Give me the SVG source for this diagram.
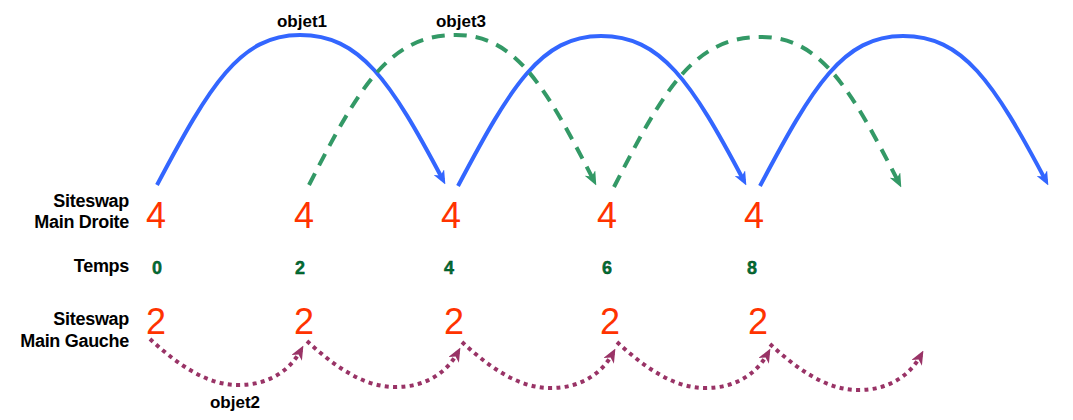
<svg xmlns="http://www.w3.org/2000/svg" width="1073" height="420" viewBox="0 0 1073 420">
<style>
.lbl{font-family:"Liberation Sans",Arial,sans-serif;font-weight:bold;font-size:18px;letter-spacing:-0.3px;fill:#000;text-anchor:end}
.obj{font-family:"Liberation Sans",Arial,sans-serif;font-weight:bold;font-size:17px;fill:#000;text-anchor:middle}
.big{font-family:"Liberation Sans",Arial,sans-serif;font-size:36px;fill:#ff3300;text-anchor:middle}
.t{font-family:"Liberation Sans",Arial,sans-serif;font-weight:bold;font-size:18px;fill:#007033;stroke:#003a1a;stroke-width:0.4;text-anchor:middle}
.blue{fill:none;stroke:#3366ff;stroke-width:4;marker-end:url(#ab)}
.green{fill:none;stroke:#339966;stroke-width:4;stroke-dasharray:13 9;marker-end:url(#ag)}
.purple{fill:none;stroke:#993366;stroke-width:4;stroke-dasharray:4 4.3;marker-end:url(#ap)}
</style>
<defs>
<marker id="ab" viewBox="0 0 14 12" refX="9" refY="6" markerWidth="14" markerHeight="12" markerUnits="userSpaceOnUse" orient="auto">
<path d="M0,0 L14,6 L0,12 L4,6 z" fill="#3366ff"/>
</marker>
<marker id="ag" viewBox="0 0 14 12" refX="9" refY="6" markerWidth="14" markerHeight="12" markerUnits="userSpaceOnUse" orient="auto">
<path d="M0,0 L14,6 L0,12 L4,6 z" fill="#339966"/>
</marker>
<marker id="ap" viewBox="0 0 14 12" refX="9" refY="6" markerWidth="14" markerHeight="12" markerUnits="userSpaceOnUse" orient="auto">
<path d="M0,0 L14,6 L0,12 L4,6 z" fill="#993366"/>
</marker>
</defs>
<g id="connectors">
<path id="b1" class="blue" d="M157,185 C210,85 240,35 300,35 C360,35 390,80 443,180"/>
<path id="b2" class="blue" transform="translate(301,1)" d="M157,185 C210,85 240,35 300,35 C360,35 390,80 443,180"/>
<path id="b3" class="blue" transform="translate(603,1)" d="M157,185 C210,85 240,35 300,35 C360,35 390,80 443,180"/>
<path id="g1" class="green" d="M309,185 C360,85 390,35 456,35 C515,35 545,85 594,181"/>
<path id="g2" class="green" transform="translate(305,2)" d="M309,185 C360,85 390,35 456,35 C515,35 545,85 594,181"/>
<path id="p1" class="purple" d="M150,339 C175,362 205,385 238,385 C270,385 290,370 301,350"/>
<path id="p2" class="purple" transform="translate(157,2)" d="M150,339 C175,362 205,385 238,385 C270,385 290,370 301,350"/>
<path id="p3" class="purple" transform="translate(312,3)" d="M150,339 C175,362 205,385 238,385 C270,385 290,370 301,350"/>
<path id="p4" class="purple" transform="translate(467,3)" d="M150,339 C175,362 205,385 238,385 C270,385 290,370 301,350"/>
<path id="p5" class="purple" transform="translate(620,5)" d="M150,339 C175,362 205,385 238,385 C270,385 290,370 301,350"/>
</g>
<g id="labels">
<text class="obj" x="302" y="27">objet1</text>
<text class="obj" x="461" y="27">objet3</text>
<text class="obj" x="235" y="408">objet2</text>
</g>
<g id="row-droite">
<text class="lbl" x="129" y="207">Siteswap</text>
<text class="lbl" x="129" y="228">Main Droite</text>
<text class="big" x="156" y="228">4</text>
<text class="big" x="304" y="228">4</text>
<text class="big" x="451" y="228">4</text>
<text class="big" x="607" y="228">4</text>
<text class="big" x="754" y="228">4</text>
</g>
<g id="row-temps">
<text class="lbl" x="129" y="272">Temps</text>
<text class="t" x="157" y="274">0</text>
<text class="t" x="300" y="274">2</text>
<text class="t" x="449" y="274">4</text>
<text class="t" x="607" y="274">6</text>
<text class="t" x="752" y="274">8</text>
</g>
<g id="row-gauche">
<text class="lbl" x="129" y="325">Siteswap</text>
<text class="lbl" x="129" y="347">Main Gauche</text>
<text class="big" x="156" y="334">2</text>
<text class="big" x="304" y="334">2</text>
<text class="big" x="454" y="334">2</text>
<text class="big" x="610" y="334">2</text>
<text class="big" x="758" y="334">2</text>
</g>
</svg>
